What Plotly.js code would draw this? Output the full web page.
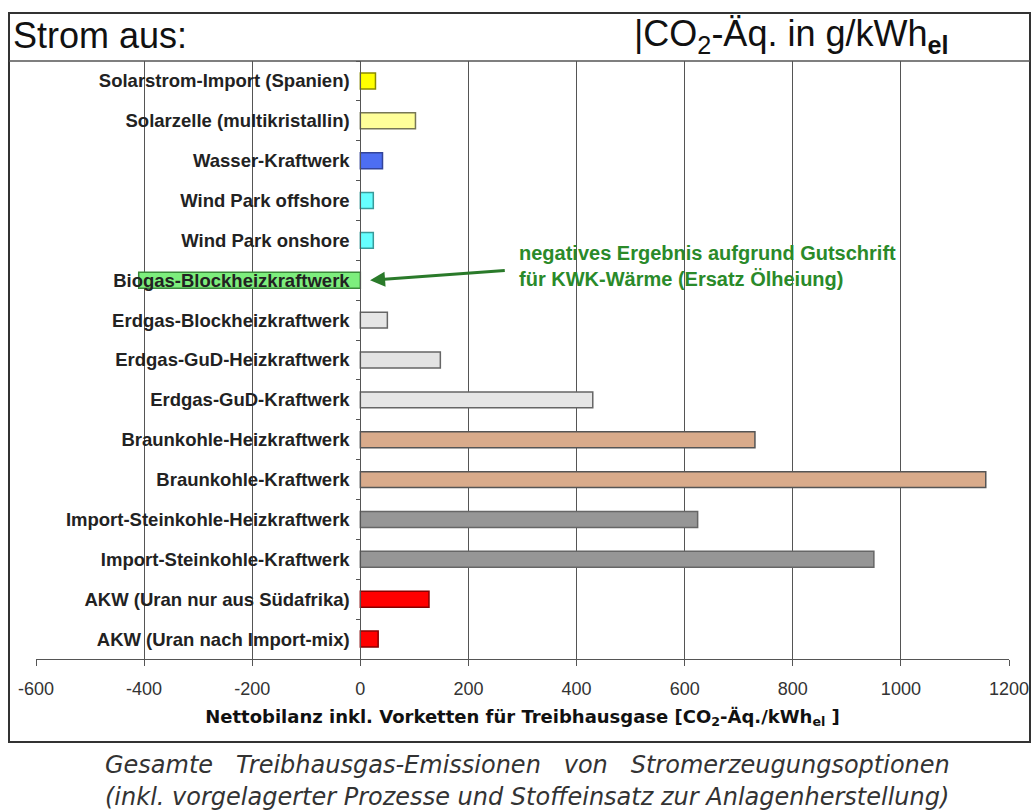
<!DOCTYPE html>
<html>
<head>
<meta charset="utf-8">
<script src="https://cdn.plot.ly/plotly-3.0.1.min.js"></script>
<style>html,body{margin:0;padding:0;background:#fff;}#chart{width:1031px;height:811px;}</style>
</head>
<body>
<div id="chart"></div>
<script>
var categories = [
  "Solarstrom-Import (Spanien)",
  "Solarzelle (multikristallin)",
  "Wasser-Kraftwerk",
  "Wind Park offshore",
  "Wind Park onshore",
  "Biogas-Blockheizkraftwerk",
  "Erdgas-Blockheizkraftwerk",
  "Erdgas-GuD-Heizkraftwerk",
  "Erdgas-GuD-Kraftwerk",
  "Braunkohle-Heizkraftwerk",
  "Braunkohle-Kraftwerk",
  "Import-Steinkohle-Heizkraftwerk",
  "Import-Steinkohle-Kraftwerk",
  "AKW (Uran nur aus Südafrika)",
  "AKW (Uran nach Import-mix)"
];
var values = [28, 102, 41, 24, 24, -410, 50, 148, 430, 730, 1157, 624, 950, 127, 33];
var xTicks = [-600, -400, -200, 0, 200, 400, 600, 800, 1000, 1200];

var barColors = ["#ffff00", "#ffff99", "#4d6ef2", "#66ffff", "#66ffff", "#7dee7d",
  "#e6e6e6", "#e3e3e3", "#e6e6e6", "#d9ab8b", "#d9ab8b", "#969696", "#969696", "#ff0000", "#ff0000"];
var barLines = ["#8a8a00", "#777755", "#33449a", "#3a9a9a", "#3a9a9a", "#3a8a3a",
  "#666", "#666", "#666", "#555", "#555", "#666", "#666", "#880000", "#880000"];

var font = "Liberation Sans, Arial, sans-serif";
var wide = "DejaVu Sans, sans-serif";
var L = 36, R = 22, T = 61, B = 152;
var W = 1031, H = 811;
var pw = W - L - R, ph = H - T - B;
function px(x) { return (x - L) / pw; }
function py(y) { return (H - B - y) / ph; }

var trace = {
  type: "bar",
  orientation: "h",
  y: categories,
  x: values,
  width: 0.4,
  marker: {color: barColors, line: {color: barLines, width: 1.5}},
  hoverinfo: "x+y"
};

var layout = {
  width: W, height: H,
  margin: {l: L, r: R, t: T, b: B},
  paper_bgcolor: "#fff",
  plot_bgcolor: "#fff",
  showlegend: false,
  font: {family: font, color: "#222"},
  xaxis: {
    range: [-600, 1200],
    tickvals: xTicks,
    ticktext: xTicks.map(String),
    showgrid: true,
    gridcolor: "#555",
    gridwidth: 1,
    zeroline: false,
    showline: true,
    linecolor: "#555",
    linewidth: 1,
    ticks: "outside",
    ticklen: 6,
    tickcolor: "#555",
    ticklabelstandoff: 7,
    tickfont: {family: font, size: 18, color: "#333"},
    title: {
      text: "<b>Nettobilanz inkl. Vorketten für Treibhausgase [CO<sub>2</sub>-Äq./kWh<sub>el</sub> ]</b>",
      font: {family: wide, size: 18, color: "#111"},
      standoff: 12
    },
    automargin: false,
    fixedrange: true
  },
  yaxis: {
    type: "category",
    autorange: "reversed",
    anchor: "free",
    position: 1 / 3,
    showgrid: false,
    zeroline: false,
    showline: true,
    linecolor: "#555",
    linewidth: 1,
    ticks: "outside",
    tickson: "boundaries",
    ticklen: 4,
    tickcolor: "#555",
    ticklabelstandoff: 7,
    tickfont: {family: font, size: 18.5, color: "#222", weight: "bold"},
    automargin: false,
    fixedrange: true
  },
  shapes: [
    {type: "rect", xref: "paper", yref: "paper", x0: px(9), x1: px(1030), y0: py(742), y1: py(13),
     line: {color: "#333", width: 2}, fillcolor: "rgba(0,0,0,0)", layer: "above"},
    {type: "line", xref: "paper", yref: "paper", x0: px(9), x1: px(1030), y0: 1, y1: 1,
     line: {color: "#555", width: 1.5}, layer: "above"}
  ],
  annotations: [
    {xref: "paper", yref: "paper", x: px(11), y: py(36), xanchor: "left", yanchor: "middle",
     text: "Strom aus:", showarrow: false, font: {family: font, size: 36, color: "#111"}},
    {xref: "paper", yref: "paper", x: px(632), y: py(36), xanchor: "left", yanchor: "middle",
     text: "|CO<sub>2</sub>-Äq. in g/kWh<sub><b>el</b></sub>", showarrow: false, font: {family: font, size: 36, color: "#111"}},
    {xref: "x", yref: "y", x: 290, y: 4.65, xanchor: "left", yanchor: "middle", align: "left",
     text: "<b>negatives Ergebnis aufgrund Gutschrift<br>für KWK-Wärme (Ersatz Ölheiung)</b>",
     showarrow: false, font: {family: font, size: 20, color: "#2a8a2a"}},
    {xref: "x", yref: "y", x: 18, y: 5, axref: "x", ayref: "y", ax: 270, ay: 4.75,
     text: "", showarrow: true, arrowhead: 2, arrowsize: 1, arrowwidth: 3, arrowcolor: "#2a7a2a"},
    {xref: "paper", yref: "paper", x: px(527), y: py(765), xanchor: "center", yanchor: "middle",
     text: "<i>Gesamte\u00a0\u00a0\u00a0Treibhausgas-Emissionen\u00a0\u00a0\u00a0von\u00a0\u00a0\u00a0Stromerzeugungsoptionen</i>",
     showarrow: false, font: {family: wide, size: 24, color: "#333"}},
    {xref: "paper", yref: "paper", x: px(527), y: py(797), xanchor: "center", yanchor: "middle",
     text: "<i>(inkl. vorgelagerter Prozesse und Stoffeinsatz zur Anlagenherstellung)</i>",
     showarrow: false, font: {family: wide, size: 24, color: "#333"}}
  ]
};

Plotly.newPlot("chart", [trace], layout, {staticPlot: true, displayModeBar: false});
</script>
</body>
</html>
